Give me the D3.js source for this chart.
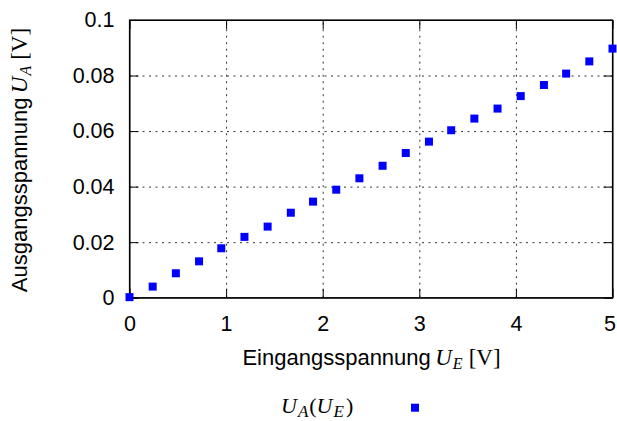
<!DOCTYPE html>
<html>
<head>
<meta charset="utf-8">
<script src="https://cdn.jsdelivr.net/npm/d3@7"></script>
<style>
  body { margin: 0; background: #fff; }
  svg { display: block; }
  .axis text { font-family: "Liberation Sans", sans-serif; font-size: 21.5px; fill: #000; }
  .axis path, .axis line { stroke: #000; }
  .grid line { stroke: #333; stroke-dasharray: 2,4.5; }
  .grid path { display: none; }
  .grid text { display: none; }
  .label { font-family: "Liberation Sans", sans-serif; font-size: 22px; fill: #000; }
  .math { font-family: "Liberation Serif", serif; }
</style>
</head>
<body>
<div id="container"></div>
<script>
// Measured points: input voltage U_E (V) and output voltage U_A (V)
var u_e = [0, 0.24, 0.48, 0.72, 0.95, 1.19, 1.43, 1.67, 1.90, 2.14, 2.38,
           2.62, 2.86, 3.10, 3.33, 3.57, 3.81, 4.05, 4.29, 4.52, 4.76, 5.0];
var u_a = [0.0002, 0.0040, 0.0088, 0.0131, 0.0178, 0.0219, 0.0256, 0.0306, 0.0346, 0.0389, 0.0430,
           0.0475, 0.0521, 0.0562, 0.0603, 0.0645, 0.0681, 0.0726, 0.0766, 0.0807, 0.0851, 0.0897];

var x_ticks = [0, 1, 2, 3, 4, 5];
var y_ticks = [0, 0.02, 0.04, 0.06, 0.08, 0.1];

var outer_width = 617;
var outer_height = 421;
var margin = {top: 20, right: 4.5, bottom: 123.3, left: 129.5};
var svg_width = outer_width - margin.left - margin.right;
var svg_height = outer_height - margin.top - margin.bottom;

var dataset = u_e.map(function(d, i){ return {x: d, y: u_a[i]}; });

var canvas = d3.select("div#container")
    .append("svg")
    .attr("width", outer_width)
    .attr("height", outer_height);

var plot = canvas.append("g")
    .attr("transform", "translate(" + margin.left + "," + margin.top + ")");

var xScale = d3.scaleLinear().domain([0, 5]).range([0, svg_width]);
var yScale = d3.scaleLinear().domain([0, 0.1]).range([svg_height, 0]);

// dotted grid
plot.append("g")
    .attr("class", "grid")
    .attr("transform", "translate(0," + svg_height + ")")
    .call(d3.axisBottom(xScale).tickValues(x_ticks.slice(1, -1)).tickSize(-svg_height));
plot.append("g")
    .attr("class", "grid")
    .call(d3.axisLeft(yScale).tickValues(y_ticks.slice(1, -1)).tickSize(-svg_width));

// axes with inward ticks (mirrored on top and right)
var tick_len = 9;
var xAxisG = plot.append("g")
    .attr("class", "axis")
    .attr("transform", "translate(0," + svg_height + ")")
    .call(d3.axisBottom(xScale).tickValues(x_ticks).tickSize(-tick_len).tickSizeOuter(0)
        .tickPadding(18).tickFormat(d3.format("d")));
// last label sits at the page edge, nudge it in a little
xAxisG.selectAll(".tick text").filter(function(d){ return d === 5; }).attr("dx", -3);

plot.append("g")
    .attr("class", "axis")
    .call(d3.axisTop(xScale).tickValues(x_ticks).tickSize(-tick_len).tickSizeOuter(0).tickFormat(""));
plot.append("g")
    .attr("class", "axis")
    .call(d3.axisLeft(yScale).tickValues(y_ticks).tickSize(-tick_len).tickSizeOuter(0)
        .tickPadding(15).tickFormat(function(d){ return d === 0 ? "0" : d3.format("")(+d.toFixed(2)); }));
plot.append("g")
    .attr("class", "axis")
    .attr("transform", "translate(" + svg_width + ",0)")
    .call(d3.axisRight(yScale).tickValues(y_ticks).tickSize(-tick_len).tickSizeOuter(0).tickFormat(""));

// frame
plot.append("rect")
    .attr("width", svg_width)
    .attr("height", svg_height)
    .attr("fill", "none")
    .attr("stroke", "#000")
    .attr("stroke-width", 1.2);

// data points
var sq = 8;
plot.selectAll(".pt")
    .data(dataset)
    .enter()
    .append("rect")
    .attr("class", "pt")
    .attr("x", function(d){ return xScale(d.x) - sq / 2; })
    .attr("y", function(d){ return yScale(d.y) - sq / 2; })
    .attr("width", sq)
    .attr("height", sq)
    .attr("fill", "#0000ff");

// helper to write "Text U_sub [V]"
function mathLabel(sel, prefix, sub) {
    sel.append("tspan").text(prefix);
    sel.append("tspan").attr("class", "math").attr("font-style", "italic").attr("font-size", "23px").text("U");
    sel.append("tspan").attr("class", "math").attr("font-style", "italic").attr("font-size", "16px")
        .attr("dx", 1).attr("dy", 4).text(sub);
    sel.append("tspan").attr("class", "math").attr("font-size", "23px").attr("dx", 6).attr("dy", -4).text("[V]");
}

// x axis label
var xl = canvas.append("text")
    .attr("class", "label")
    .attr("x", 371.5)
    .attr("y", 365)
    .attr("text-anchor", "middle");
mathLabel(xl, "Eingangsspannung\u2009", "E");

// y axis label
var yl = canvas.append("text")
    .attr("class", "label")
    .attr("transform", "translate(27,160) rotate(-90)")
    .attr("text-anchor", "middle");
mathLabel(yl, "Ausgangsspannung\u2009", "A");

// legend
var lg = canvas.append("text")
    .attr("class", "label math")
    .attr("x", 281)
    .attr("y", 413)
    .attr("font-style", "italic")
    .attr("font-size", "25px");
lg.append("tspan").text("U");
lg.append("tspan").attr("font-size", "17px").attr("dx", 1).attr("dy", 4).text("A");
lg.append("tspan").attr("dy", -4).attr("dx", 1).attr("font-style", "normal").text("(");
lg.append("tspan").text("U");
lg.append("tspan").attr("font-size", "17px").attr("dx", 1).attr("dy", 4).text("E");
lg.append("tspan").attr("dy", -4).attr("dx", 2).attr("font-style", "normal").text(")");

canvas.append("rect")
    .attr("x", 415 - sq / 2)
    .attr("y", 407.7 - sq / 2)
    .attr("width", sq)
    .attr("height", sq)
    .attr("fill", "#0000ff");
</script>
</body>
</html>
